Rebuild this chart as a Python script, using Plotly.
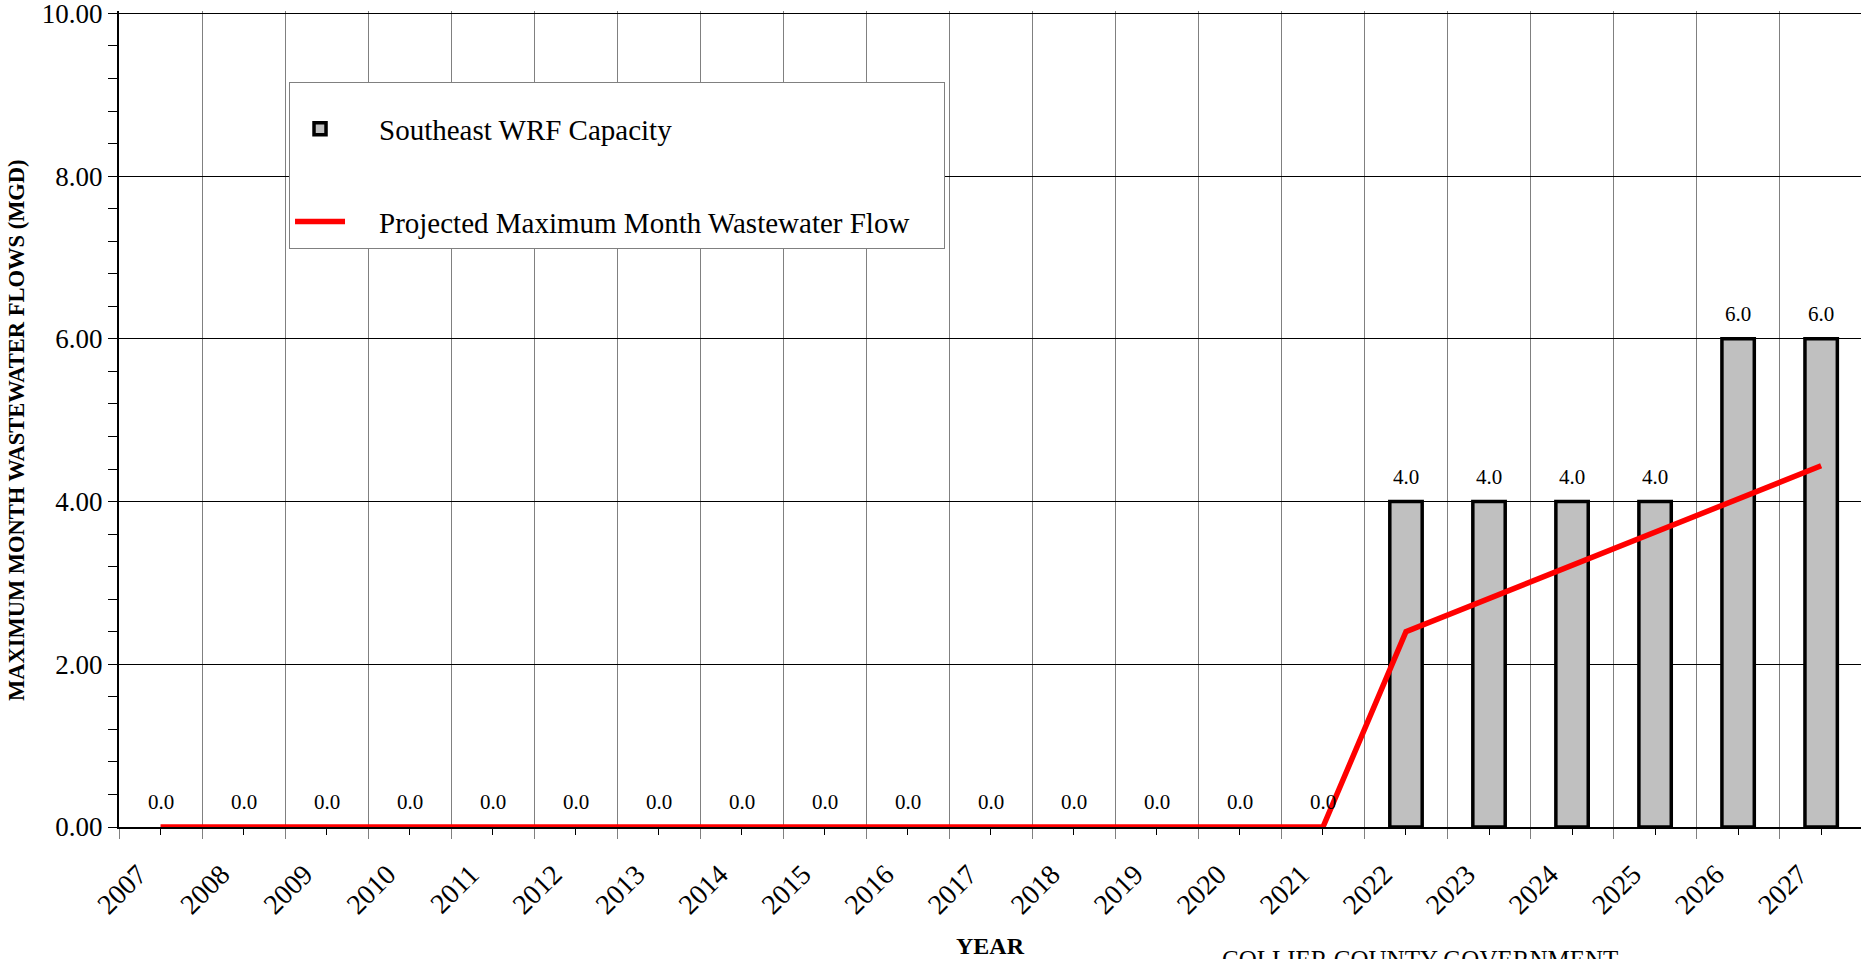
import plotly.graph_objects as go

# Planning years and flows (MGD)
years = list(range(2007, 2028))
capacity = [0.0] * 15 + [4.0, 4.0, 4.0, 4.0, 6.0, 6.0]
projected_flow = [0.0] * 15 + [2.40, 2.81, 3.22, 3.63, 4.03, 4.44]
year_labels = [str(y) for y in years]

SERIF = "Liberation Serif, Times New Roman, serif"
PAD = "\u00a0" * 4

fig = go.Figure()

# zero-capacity years get no outline so nothing is drawn there;
# bars are fed newest-first so the legend swatch takes the outlined style
outline = [3.5 if v > 0 else 0 for v in capacity]

fig.add_trace(go.Bar(
    x=years[::-1],
    y=capacity[::-1],
    name=PAD + "Southeast WRF Capacity" + PAD,
    width=0.39,
    marker=dict(color="#c0c0c0",
                line=dict(color="#000000", width=outline[::-1])),
    legendgroup="cap",
))

fig.add_trace(go.Scatter(
    x=years,
    y=projected_flow,
    mode="lines",
    name=PAD + "Projected Maximum Month Wastewater Flow" + PAD,
    line=dict(color="#ff0000", width=5.5),
    legendgroup="flow",
))

# value labels above each capacity bar
for yr, v in zip(years, capacity):
    fig.add_annotation(
        x=yr, y=v, text=f"{v:.1f}", showarrow=False,
        yanchor="bottom", yshift=11,
        font=dict(family=SERIF, size=21, color="#000000"),
    )

fig.add_annotation(
    xref="paper", yref="paper", x=-0.0591, y=0.4865,
    xanchor="center", yanchor="middle", showarrow=False, textangle=-90,
    text="<b>MAXIMUM MONTH WASTEWATER FLOWS (MGD)</b>",
    font=dict(family=SERIF, size=22.5, color="#000000"),
)

fig.add_annotation(
    xref="paper", yref="paper", x=0.632, y=-0.1435,
    xanchor="left", yanchor="top", showarrow=False,
    text="COLLIER COUNTY GOVERNMENT",
    font=dict(family=SERIF, size=25, color="#000000"),
)

fig.update_layout(
    width=1861, height=959,
    margin=dict(l=119, r=0, t=11, b=132),
    paper_bgcolor="#ffffff",
    plot_bgcolor="#ffffff",
    font=dict(family=SERIF, color="#000000"),
    showlegend=True,
    legend=dict(
        x=0.0976, y=0.9135, xanchor="left", yanchor="top",
        bgcolor="#ffffff", bordercolor="#808080", borderwidth=1,
        font=dict(family=SERIF, size=29, color="#000000"),
        title=dict(text="\u00a0", font=dict(size=16)),
        traceorder="grouped", tracegroupgap=52,
        itemwidth=50,
    ),
    xaxis=dict(
        range=[2006.5, 2027.48],
        tickmode="array", tickvals=years, ticktext=year_labels,
        tickangle=-45,
        tickfont=dict(family=SERIF, size=28, color="#000000"),
        ticklabelshift=-22, ticklabelstandoff=12,
        ticks="outside", ticklen=6, tickwidth=1, tickcolor="#000000",
        showgrid=False,
        showline=True, linecolor="#000000", linewidth=1.5,
        zeroline=False, automargin=False,
        minor=dict(tick0=2006.5, dtick=1, ticks="outside", ticklen=10,
                   tickcolor="#808080", tickwidth=1,
                   showgrid=True, gridcolor="#808080", gridwidth=1),
        title=dict(text="<b>YEAR</b>", standoff=20,
                   font=dict(family=SERIF, size=24, color="#000000")),
    ),
    yaxis=dict(
        range=[0, 10.03], dtick=2, tick0=0, tickformat=".2f",
        tickfont=dict(family=SERIF, size=27, color="#000000"),
        ticklabeloverflow="allow",
        ticks="outside", ticklen=9, tickwidth=1, tickcolor="#000000",
        showgrid=True, gridcolor="#000000", gridwidth=1,
        showline=True, linecolor="#000000", linewidth=2,
        zeroline=False, automargin=False,
        minor=dict(dtick=0.4, ticks="outside", ticklen=9,
                   tickcolor="#000000", tickwidth=1, showgrid=False),
    ),
    yaxis2=dict(
        overlaying="y", anchor="x", side="left",
        range=[0, 10.03], dtick=2, showticklabels=False, ticks="",
        showgrid=False, zeroline=False, showline=False, automargin=False,
        minor=dict(dtick=0.4, ticks="inside", ticklen=7,
                   tickcolor="#000000", tickwidth=1, showgrid=False),
    ),
)

fig.write_html("out.html")
